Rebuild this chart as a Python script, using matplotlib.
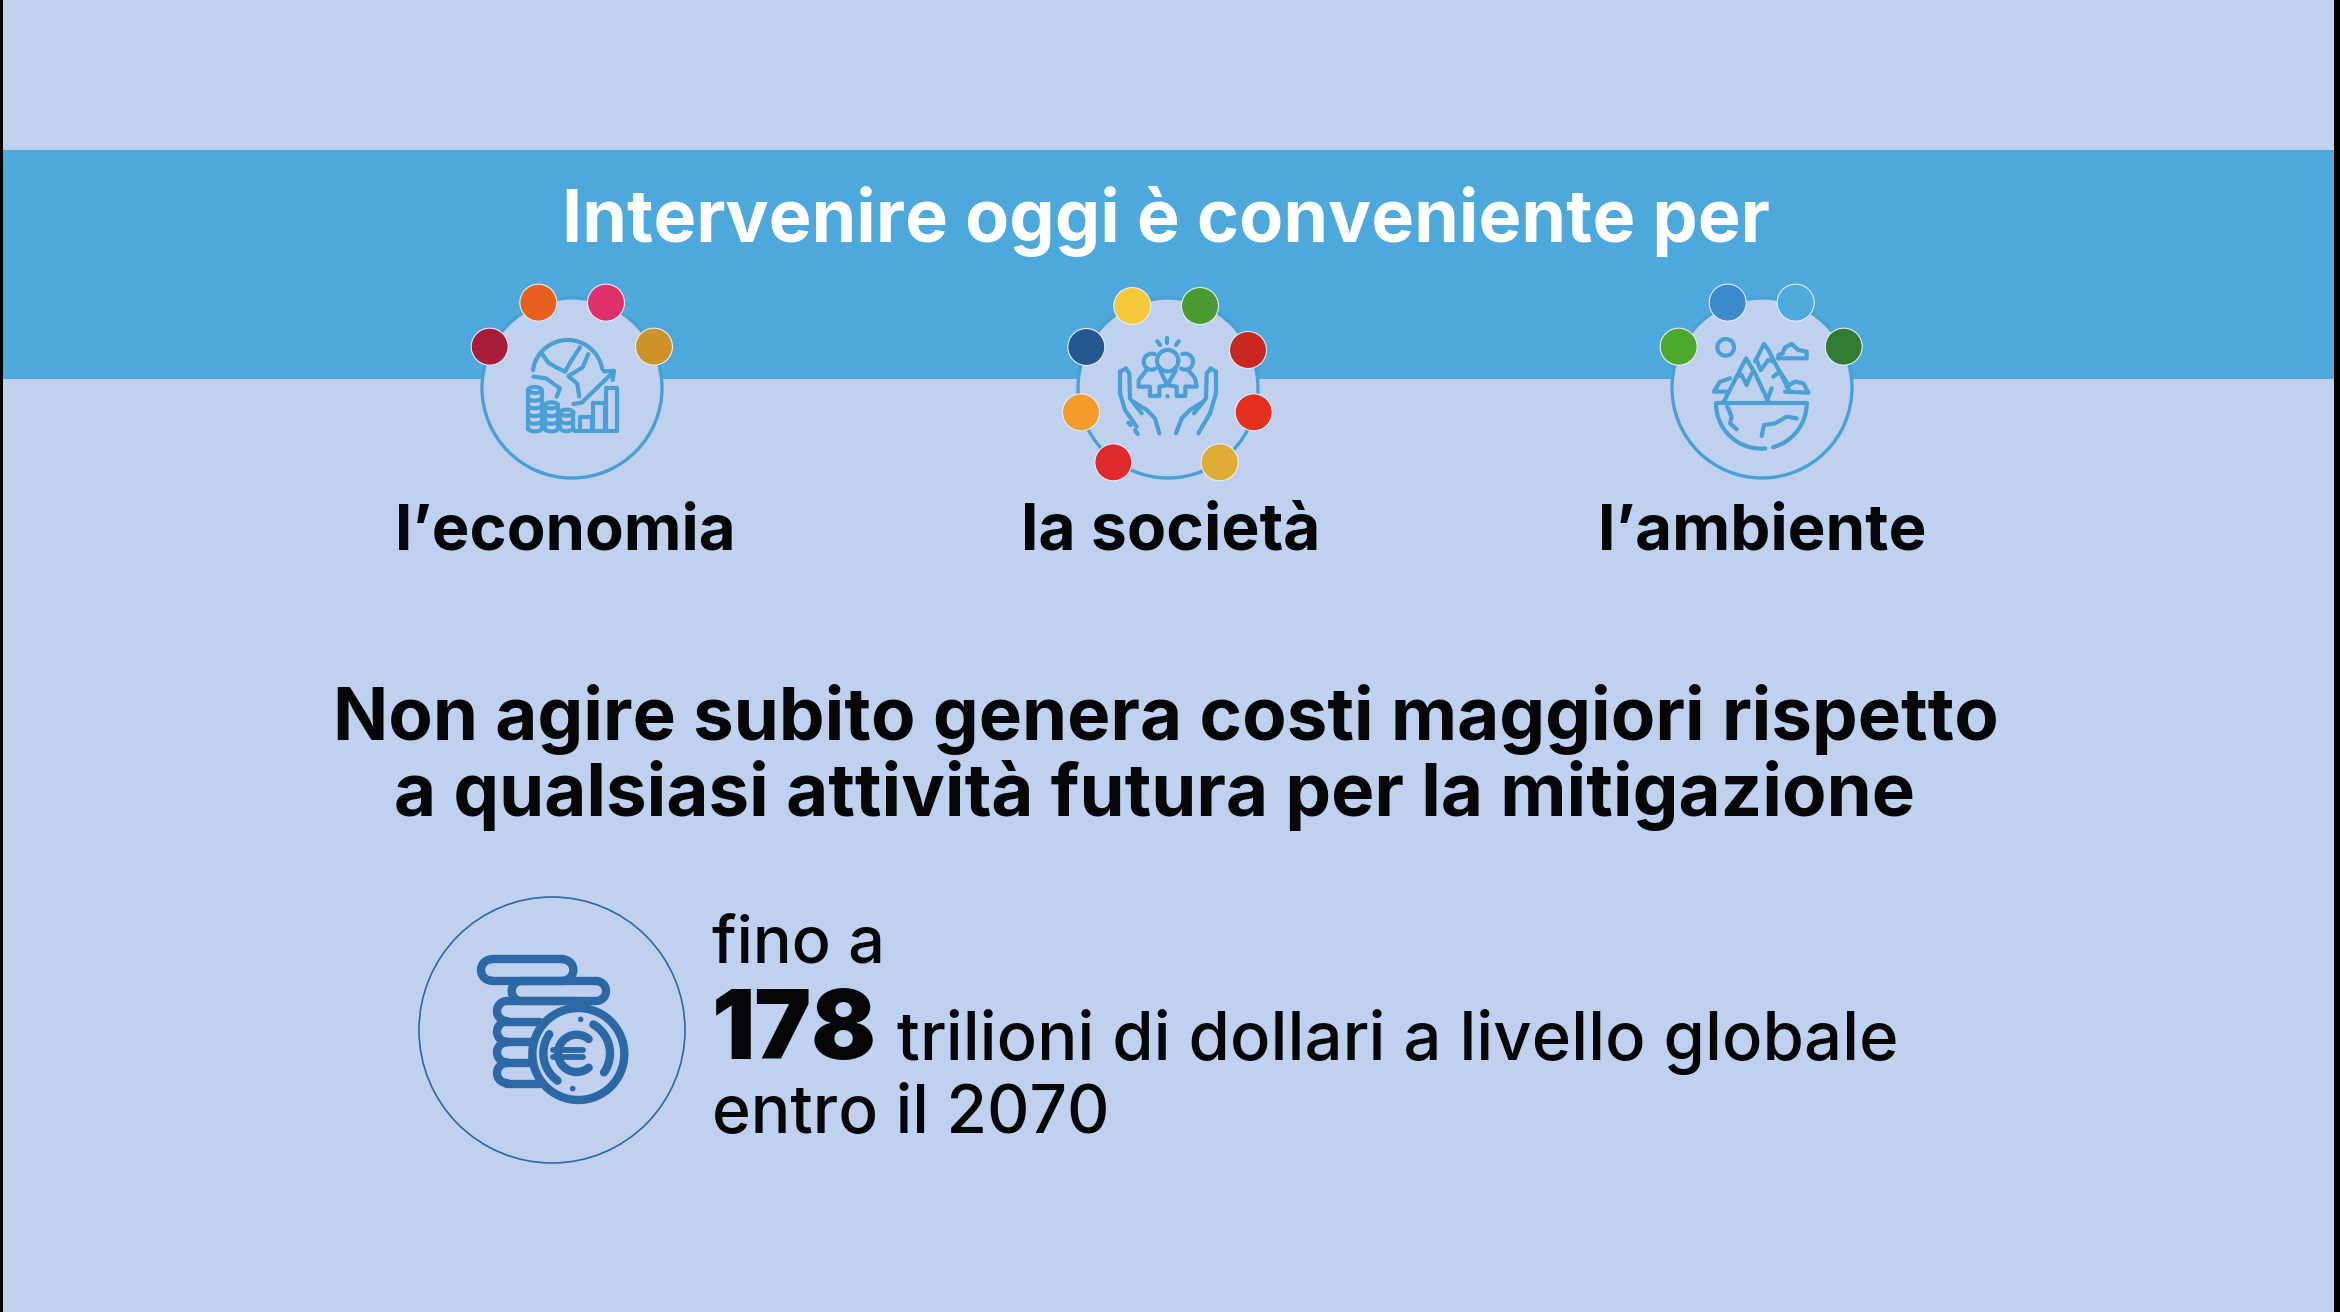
import numpy as np
import matplotlib
matplotlib.use("Agg")
import matplotlib.pyplot as plt
from matplotlib.patches import Circle, Rectangle

BG = "#C0D1EF"
BAND = "#4DA8DC"
ICON = "#4A9FD3"
COIN = "#2C68A4"
INK = "#060608"

title = "Intervenire oggi è conveniente per"
pillars = ["l’economia", "la società", "l’ambiente"]
headline = ["Non agire subito genera costi maggiori rispetto",
            "a qualsiasi attività futura per la mitigazione"]
fino = "fino a"
amount = "178"
amount_rest = "trilioni di dollari a livello globale"
entro = "entro il 2070"

econ_colors = ["#E8601F", "#E0306A", "#A81C3C", "#CE9229"]
soc_colors = ["#F6C93B", "#4A9A32", "#24598F", "#C8281F", "#E2311D", "#DFAB37", "#DF2A2C", "#F39C2B"]
env_colors = ["#3C8ACB", "#4FAADD", "#4EA82C", "#327B32"]

fig = plt.figure(figsize=(23.4, 13.12), dpi=100, facecolor=BG)
ax = fig.add_axes([0, 0, 1, 1])
ax.set_xlim(0, 2340)
ax.set_ylim(1312, 0)
ax.axis("off")

ax.add_patch(Rectangle((3, 150), 2331, 229, fc=BAND, ec="none", zorder=1))
ax.add_patch(Rectangle((0, 0), 3, 1312, fc="#050505", ec="none", zorder=1))
ax.add_patch(Rectangle((2334, 0), 6, 1312, fc="#000000", ec="none", zorder=1))


def put(txt, x0, x1, base, weight="bold", color=INK, size=40):
    # text fitted to the width it has in the reference
    t = ax.text(x0, base, txt, fontsize=size, fontweight=weight, color=color,
                family=["Inter", "DejaVu Sans"], ha="left", va="baseline", zorder=6)
    r = fig.canvas.get_renderer()
    w = t.get_window_extent(r).width
    t.set_fontsize(size * (x1 - x0) / w)
    return t


put(title, 562, 1771, 242, color="white")
put(pillars[0], 395, 736, 549)
put(pillars[1], 1021, 1321, 549)
put(pillars[2], 1598, 1927, 549)
put(headline[0], 333, 2000, 740)
put(headline[1], 394, 1918, 816)
put(fino, 712, 885, 963, weight="medium")
put(amount, 712, 877, 1059, weight="black")
put(amount_rest, 897, 1897, 1060, weight="medium")
put(entro, 712, 1110, 1133, weight="medium")


def poly(ox, oy, pts, lw=3.0, color=ICON):
    # pts in 3x zoom units relative to the crop corner
    p = np.array(pts, dtype=float) / 3
    ax.plot(ox + p[:, 0], oy + p[:, 1], color=color, lw=lw, solid_capstyle="round",
            solid_joinstyle="round", zorder=4)


def arc(ox, oy, cx, cy, rx, a0, a1, lw=3.0, color=ICON, ry=None):
    ry = rx if ry is None else ry
    a = np.radians(np.linspace(a0, a1, 60))
    poly(ox, oy, np.c_[cx + rx * np.cos(a), cy + ry * np.sin(a)], lw, color)


def ring(cx, cy, r, lw=2.4, color=ICON):
    ax.add_patch(Circle((cx, cy), r, fc=BG, ec=color, lw=lw, zorder=2))


def dots(ox, oy, pts, colors):
    for (x, y), c in zip(pts, colors):
        ax.add_patch(Circle((ox + x / 3, oy + y / 3), 18.5, fc=c, ec="#E6EEF8", lw=0.8, zorder=5))


# economy
ox, oy = 440, 260
ring(572, 388, 90)
dots(ox, oy, [(295, 128), (498, 128), (149, 260), (642, 260)], econ_colors)
arc(ox, oy, 383, 345, 105, -172, -10)
poly(ox, oy, [(305, 280), (325, 308), (345, 320), (375, 335), (395, 300), (420, 262)])
poly(ox, oy, [(445, 282), (428, 322), (385, 348), (412, 372), (418, 410)])
poly(ox, oy, [(280, 350), (318, 355), (360, 385), (350, 410)])
poly(ox, oy, [(400, 432), (425, 428), (518, 338)])
poly(ox, oy, [(492, 334), (522, 332), (518, 360)])
poly(ox, oy, [(420, 512), (420, 470), (455, 470), (455, 512)])
poly(ox, oy, [(458, 512), (458, 430), (495, 430), (495, 512)])
poly(ox, oy, [(498, 512), (498, 383), (532, 383), (532, 512), (405, 512)])
for x0, x1, top in [(264, 305, 390), (314, 354, 436), (360, 400, 458)]:
    for y in np.arange(top, 512, 23):
        arc(ox, oy, (x0 + x1) / 2, y, (x1 - x0) / 2, 0, 180, ry=9)
    poly(ox, oy, [(x0, top), (x0, 508)])
    poly(ox, oy, [(x1, top), (x1, 508)])
    arc(ox, oy, (x0 + x1) / 2, top, (x1 - x0) / 2, 180, 360, ry=9)

# society
ox, oy = 1040, 270
ring(1168, 388, 90)
dots(ox, oy, [(277, 108), (480, 108), (139, 231), (624, 240), (641, 427), (539, 577), (220, 577), (123, 427)], soc_colors)
poly(ox, oy, [(382, 203), (382, 218)])
poly(ox, oy, [(352, 214), (360, 225)])
poly(ox, oy, [(416, 214), (408, 225)])
arc(ox, oy, 383, 272, 32, 0, 360)
arc(ox, oy, 335, 275, 24, 60, 290)
arc(ox, oy, 435, 275, 24, -110, 120)
poly(ox, oy, [(320, 300), (296, 330), (296, 350), (330, 350), (330, 378), (358, 378), (358, 350), (382, 345), (410, 350), (410, 378), (436, 378), (436, 350), (470, 350), (465, 325), (445, 300)])
poly(ox, oy, [(360, 300), (382, 345), (408, 300)])
poly(ox, oy, [(290, 470), (255, 420), (240, 370), (240, 305), (258, 295), (268, 310), (270, 385), (305, 430)])
poly(ox, oy, [(280, 395), (320, 420), (345, 445), (358, 490)])
poly(ox, oy, [(265, 458), (272, 465)])
poly(ox, oy, [(285, 480), (293, 492)])
poly(ox, oy, [(475, 490), (510, 430), (528, 370), (528, 305), (512, 295), (500, 310), (498, 385), (462, 430)])
poly(ox, oy, [(490, 395), (450, 420), (425, 445), (408, 490)])
poly(ox, oy, [(382, 378), (383, 379)])

# environment
ox, oy = 1640, 270
ring(1762, 388, 90)
dots(ox, oy, [(263, 98), (467, 98), (116, 230), (611, 230)], env_colors)
arc(ox, oy, 257, 232, 25, 0, 360)
poly(ox, oy, [(415, 265), (500, 265), (500, 245), (475, 240), (455, 222), (435, 232), (428, 250), (415, 255), (415, 265)])
poly(ox, oy, [(250, 398), (318, 265), (345, 310), (385, 395)])
poly(ox, oy, [(290, 320), (305, 315), (320, 345), (335, 310)])
poly(ox, oy, [(345, 275), (372, 222), (385, 240), (450, 365)])
poly(ox, oy, [(352, 275), (362, 300), (385, 270), (400, 275)])
poly(ox, oy, [(400, 320), (420, 305), (445, 345)])
poly(ox, oy, [(270, 325), (240, 335), (222, 365), (262, 365)])
poly(ox, oy, [(435, 365), (505, 368), (490, 340), (465, 335), (440, 350)])
poly(ox, oy, [(380, 395), (395, 355)])
poly(ox, oy, [(228, 400), (500, 400)])
arc(ox, oy, 364, 400, 136, 0, 75)
arc(ox, oy, 364, 400, 136, 85, 180)
poly(ox, oy, [(262, 410), (275, 440), (270, 460), (290, 478)])
poly(ox, oy, [(365, 498), (372, 465), (405, 460), (440, 440), (470, 445)])

# coins
ox, oy = 400, 880
ax.add_patch(Circle((552, 1030), 133, fc="none", ec=COIN, lw=1.2, zorder=2))
lw = 6.0


def pill(x0, x1, y, h=54):
    arc(ox, oy, x0 + h / 2, y + h / 2, h / 2, 90, 270, lw, COIN)
    arc(ox, oy, x1 - h / 2, y + h / 2, h / 2, -90, 90, lw, COIN)
    poly(ox, oy, [(x0 + h / 2, y), (x1 - h / 2, y)], lw, COIN)
    poly(ox, oy, [(x0 + h / 2, y + h), (x1 - h / 2, y + h)], lw, COIN)


pill(243, 520, 238, 64)
arc(ox, oy, 365, 333, 30, 90, 270, lw, COIN)
poly(ox, oy, [(365, 303), (590, 303)], lw, COIN)
arc(ox, oy, 588, 333, 30, -90, 90, lw, COIN)
poly(ox, oy, [(365, 363), (588, 363)], lw, COIN)
for y in [363, 425, 487, 549]:
    arc(ox, oy, 321, y + 30, 30, 90, 270, lw, COIN)
    poly(ox, oy, [(321, y), (530 if y == 363 else 420, y)], lw, COIN)
poly(ox, oy, [(321, 611), (420, 611)], lw, COIN)
ax.add_patch(Circle((ox + 535 / 3, oy + 522 / 3), 46, fc=BG, ec=COIN, lw=lw, zorder=4))
arc(ox, oy, 530, 520, 100, -60, 35, lw, COIN)
arc(ox, oy, 530, 520, 100, 125, 215, lw, COIN)
arc(ox, oy, 530, 520, 56, 50, 310, lw, COIN)
poly(ox, oy, [(460, 510), (550, 510)], lw * 0.7, COIN)
poly(ox, oy, [(460, 530), (550, 530)], lw * 0.7, COIN)
ax.add_patch(Circle((ox + 542 / 3, oy + 418 / 3), 2.8, fc=COIN, ec="none", zorder=5))
ax.add_patch(Circle((ox + 518 / 3, oy + 626 / 3), 2.8, fc=COIN, ec="none", zorder=5))

fig.savefig("out.png", dpi=100, facecolor=BG)
